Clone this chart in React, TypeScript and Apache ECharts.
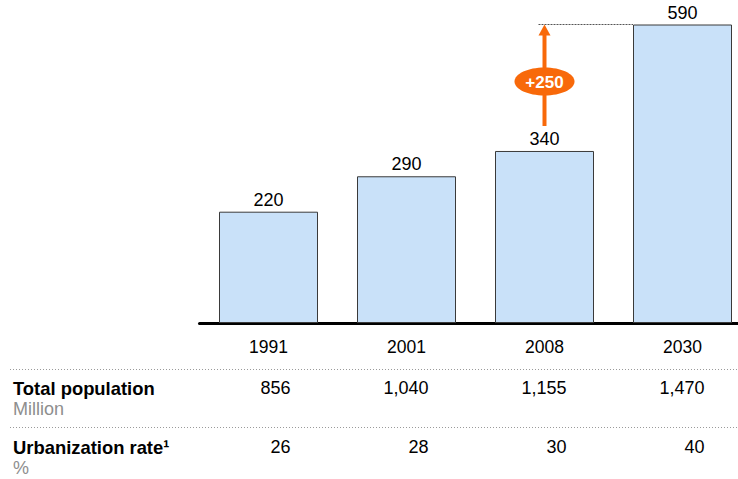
import React, { useEffect, useRef } from "react";
import * as echarts from "echarts";

const years = ["1991", "2001", "2008", "2030"];
const urbanPopulation = [220, 290, 340, 590];
const totalPopulation = ["856", "1,040", "1,155", "1,470"];
const urbanizationRate = ["26", "28", "30", "40"];
const rowTitles = ["Total population", "Urbanization rate\u00B9"];
const rowUnits = ["Million", "%"];

const FONT = "'Liberation Sans', Arial, Helvetica, sans-serif";
const ORANGE = "#F8690A";

export default function App() {
  const ref = useRef<HTMLDivElement>(null);

  useEffect(() => {
    if (!ref.current) return;
    const chart = echarts.init(ref.current, null, { renderer: "svg" });
    chart.setOption({
      animation: false,
      grid: { left: 199.5, top: 24.5, width: 552, height: 298.5, containLabel: false },
      xAxis: {
        type: "category",
        data: years,
        axisLine: { show: true, lineStyle: { color: "#000", width: 3 } },
        axisTick: { show: false },
        axisLabel: { margin: 15, fontSize: 17.5, color: "#000", fontFamily: FONT },
      },
      yAxis: { type: "value", min: 0, max: 590, show: false, splitLine: { show: false } },
      series: [
        {
          type: "bar",
          data: urbanPopulation,
          barWidth: 99,
          itemStyle: { color: "#C9E1F9", borderColor: "#3A3A3A", borderWidth: 1 },
          label: {
            show: true,
            position: "top",
            distance: 3,
            fontSize: 18,
            color: "#000",
            fontFamily: FONT,
          },
          z: 1,
        },
      ],
    });

    const px = (i: number, v: number) =>
      chart.convertToPixel({ xAxisIndex: 0, yAxisIndex: 0 }, [i, v]) as number[];

    const graphics: any[] = [];
    // dotted separators
    [369.5, 427.5].forEach((y) => {
      graphics.push({
        type: "line",
        shape: { x1: 10, y1: y, x2: 738, y2: y },
        style: { stroke: "#9A9A9A", lineWidth: 1, lineDash: [1, 2] },
      });
    });
    // row titles
    const rowY = [388, 447];
    rowTitles.forEach((t, r) => {
      graphics.push({
        type: "text",
        x: 13,
        y: rowY[r],
        style: {
          text: t,
          fontSize: 18.4,
          fontWeight: "bold",
          fontFamily: FONT,
          fill: "#000",
          verticalAlign: "middle",
          align: "left",
        },
      });
      graphics.push({
        type: "text",
        x: 13,
        y: rowY[r] + 21,
        style: {
          text: rowUnits[r],
          fontSize: 18,
          fontFamily: FONT,
          fill: "#8E8E8E",
          verticalAlign: "middle",
          align: "left",
        },
      });
    });
    // row values
    years.forEach((_, i) => {
      const cx = px(i, 0)[0];
      [totalPopulation, urbanizationRate].forEach((arr, r) => {
        graphics.push({
          type: "text",
          x: cx + 22,
          y: rowY[r],
          style: {
            text: arr[i],
            fontSize: 18,
            fontFamily: FONT,
            fill: "#000",
            verticalAlign: "middle",
            align: "right",
          },
        });
      });
    });

    // growth arrow from 2008 to 2030 level
    const iFrom = 2;
    const iTo = 3;
    const top = px(iTo, urbanPopulation[iTo]);
    const from = px(iFrom, urbanPopulation[iFrom]);
    const ax = from[0];
    const ay = top[1];
    const yBottom = from[1] - 25;
    graphics.push({
      type: "line",
      shape: { x1: ax - 6, y1: ay, x2: top[0] - 49.5, y2: ay },
      style: { stroke: "#555", lineWidth: 1, lineDash: [2, 1] },
    });
    graphics.push({
      type: "line",
      shape: { x1: ax, y1: yBottom, x2: ax, y2: ay + 10 },
      style: { stroke: ORANGE, lineWidth: 4 },
    });
    graphics.push({
      type: "polygon",
      shape: { points: [[ax - 6, ay + 11], [ax + 6, ay + 11], [ax, ay]] },
      style: { fill: ORANGE },
    });
    const ey = ay + 57;
    graphics.push({
      type: "ellipse",
      shape: { cx: ax, cy: ey, rx: 30, ry: 14 },
      style: { fill: ORANGE },
    });
    graphics.push({
      type: "text",
      x: ax,
      y: ey + 1,
      style: {
        text: "+" + (urbanPopulation[iTo] - urbanPopulation[iFrom]),
        fontSize: 17,
        fontWeight: "bold",
        fontFamily: FONT,
        fill: "#fff",
        align: "center",
        verticalAlign: "middle",
      },
    });

    chart.setOption({ graphic: graphics });

    return () => chart.dispose();
  }, []);

  return (
    <div
      style={{
        position: "fixed",
        left: 0,
        top: 0,
        width: 738,
        height: 479,
        overflow: "hidden",
        background: "#fff",
      }}
    >
      <div ref={ref} style={{ width: 760, height: 479 }} />
    </div>
  );
}
